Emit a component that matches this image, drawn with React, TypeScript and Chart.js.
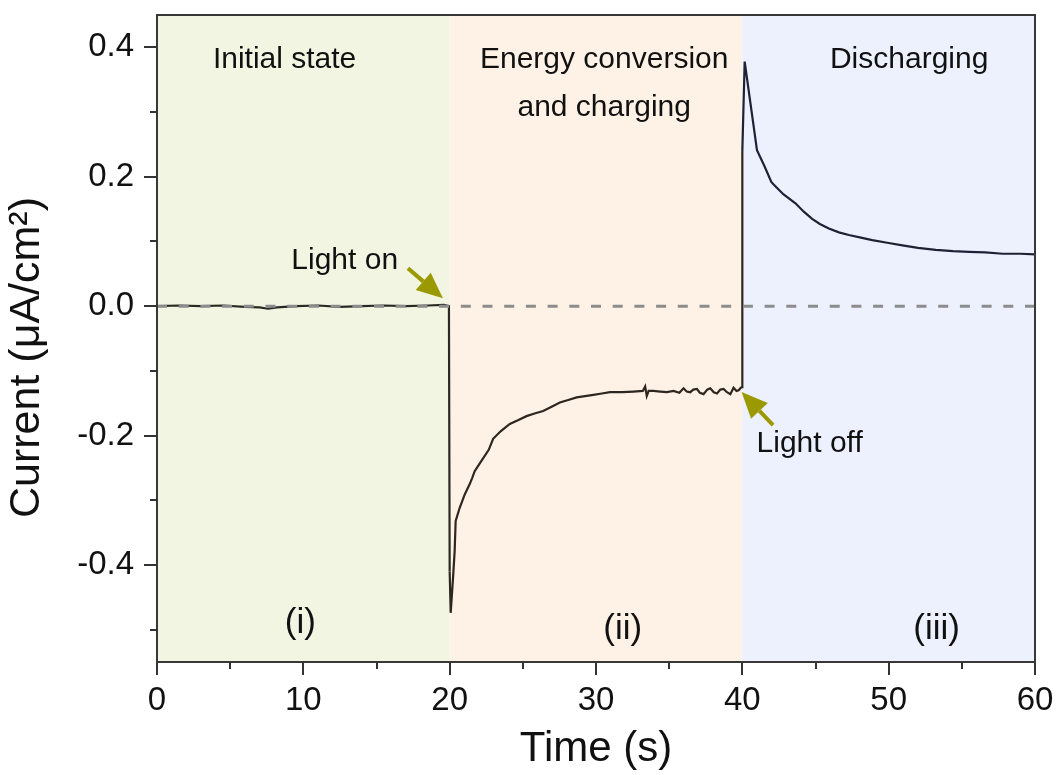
import React, { useEffect, useRef } from 'react';
import { Chart, registerables } from 'chart.js';

Chart.register(...registerables);

// ---------------- data ----------------
const timeS: number[] = [
  0, 1.5, 3, 4.5, 6, 7, 7.6, 8.2, 9.5, 11, 12.5, 14, 15.5, 17, 18.5, 19.6, 19.95,
  20.0, 20.07, 20.23, 20.34, 20.41, 20.68, 21.03, 21.37, 21.55, 21.71, 22.17, 22.67, 22.97,
  23.5, 24.11, 24.7, 25.25, 25.8, 26.39, 27.0, 27.53, 28.1, 28.68, 29.25, 29.82, 30.4, 30.96,
  31.8, 32.56, 33.2, 33.36, 33.47, 33.6, 33.92, 34.4, 34.84, 35.3, 35.7, 35.98, 36.2, 36.44,
  36.65, 36.9, 37.1, 37.35, 37.6, 37.81, 38.05, 38.27, 38.5, 38.72, 38.95, 39.18, 39.4, 39.6,
  39.75, 39.9, 39.98, 40.0, 40.16, 41.0, 41.5, 41.98, 42.14, 42.8, 43.63, 44.2, 44.77, 45.3,
  45.91, 46.6, 47.28, 48.1, 48.88, 49.9, 50.94, 52.0, 53.22, 54.4, 55.5, 56.6, 57.79, 59.0, 60.0,
];
const currentUA: number[] = [
  0.0, 0.001, 0.0, 0.001, -0.001, -0.002, -0.004, -0.002, 0.0, 0.001, -0.001, 0.0, 0.001, 0.0, 0.001, 0.002, 0.0,
  -0.41, -0.474, -0.42, -0.379, -0.332, -0.312, -0.291, -0.275, -0.265, -0.255, -0.239, -0.222, -0.205,
  -0.193, -0.182, -0.176, -0.17, -0.166, -0.162, -0.155, -0.149, -0.145, -0.141, -0.139, -0.137, -0.135, -0.133,
  -0.133, -0.132, -0.131, -0.124, -0.139, -0.131, -0.131, -0.132, -0.133, -0.131, -0.134, -0.127, -0.132, -0.133,
  -0.129, -0.128, -0.134, -0.136, -0.129, -0.127, -0.133, -0.135, -0.129, -0.128, -0.133, -0.136, -0.126, -0.131,
  -0.13, -0.126, -0.125, 0.24, 0.378, 0.241, 0.217, 0.192, 0.188, 0.173, 0.159, 0.146, 0.135, 0.127,
  0.12, 0.114, 0.11, 0.106, 0.102, 0.098, 0.094, 0.09, 0.087, 0.085, 0.084, 0.083, 0.081, 0.081, 0.08,
];
const zeroLineX: number[] = [0, 60];
const zeroLineY: number[] = [0, 0];

const xMajorTicks: number[] = [0, 10, 20, 30, 40, 50, 60];
const xTickLabels: string[] = ['0', '10', '20', '30', '40', '50', '60'];
const xMinorTicks: number[] = [5, 15, 25, 35, 45, 55];
const yMajorTicks: number[] = [-0.4, -0.2, 0, 0.2, 0.4];
const yTickLabels: string[] = ['-0.4', '-0.2', '0.0', '0.2', '0.4'];
const yMinorTicks: number[] = [-0.5, -0.3, -0.1, 0.1, 0.3];

const phaseStart: number[] = [0, 20, 40];
const phaseEnd: number[] = [20, 40, 60];
const phaseTitles: string[][] = [['Initial state'], ['Energy conversion', 'and charging'], ['Discharging']];
const phaseNumerals: string[] = ['(i)', '(ii)', '(iii)'];
const arrowLabels: string[] = ['Light on', 'Light off'];

// ---------------- styling / annotation placement (data coordinates) ----------------
const FONT = '"Liberation Sans", Arial, Helvetica, sans-serif';
const bandColors = ['#f3f5e3', '#fef2e7', '#edf1fe'];
const lineColors = ['#2a2a24', '#2e2620', '#1f2235'];
const titlePos = [
  { x: 8.72, y: [0.3686] },
  { x: 30.56, y: [0.3686, 0.2943] },
  { x: 51.4, y: [0.3686] },
];
const numeralPos = [
  { x: 9.8, y: -0.5045 },
  { x: 31.83, y: -0.514 },
  { x: 53.28, y: -0.514 },
];
const arrowPos = [
  { label: { x: 9.18, y: 0.0567 }, tail: { x: 17.15, y: 0.0585 }, tip: { x: 19.54, y: 0.0121 } },
  { label: { x: 40.97, y: -0.2254 }, tail: { x: 42.1, y: -0.184 }, tip: { x: 39.95, y: -0.1325 } },
];

const decorPlugin = {
  id: 'decor',
  beforeDatasetsDraw(chart: any) {
    const { ctx, chartArea, scales } = chart;
    const { top, bottom } = chartArea;
    ctx.save();
    phaseStart.forEach((s, i) => {
      const x0 = scales.x.getPixelForValue(s);
      const x1 = scales.x.getPixelForValue(phaseEnd[i]);
      ctx.fillStyle = bandColors[i];
      ctx.fillRect(x0, top, x1 - x0, bottom - top);
    });
    ctx.restore();
  },
  afterDatasetsDraw(chart: any) {
    const { ctx, chartArea, scales } = chart;
    const { left, right, top, bottom } = chartArea;
    const xs = scales.x;
    const ys = scales.y;
    ctx.save();
    // frame
    ctx.strokeStyle = '#383838';
    ctx.lineWidth = 2;
    ctx.strokeRect(left, top, right - left, bottom - top);
    // minor ticks
    ctx.strokeStyle = '#333';
    ctx.lineWidth = 2;
    ctx.beginPath();
    yMinorTicks.forEach((v) => {
      const py = Math.round(ys.getPixelForValue(v));
      ctx.moveTo(left - 7, py);
      ctx.lineTo(left, py);
    });
    xMinorTicks.forEach((v) => {
      const px = Math.round(xs.getPixelForValue(v));
      ctx.moveTo(px, bottom);
      ctx.lineTo(px, bottom + 7);
    });
    ctx.stroke();

    // phase titles
    ctx.fillStyle = '#111';
    ctx.textAlign = 'center';
    ctx.textBaseline = 'alphabetic';
    ctx.font = `30px ${FONT}`;
    phaseTitles.forEach((lines, i) => {
      lines.forEach((t, j) => {
        ctx.fillText(t, xs.getPixelForValue(titlePos[i].x), ys.getPixelForValue(titlePos[i].y[j]));
      });
    });
    ctx.font = `35px ${FONT}`;
    phaseNumerals.forEach((t, i) => {
      ctx.fillText(t, xs.getPixelForValue(numeralPos[i].x), ys.getPixelForValue(numeralPos[i].y));
    });

    // arrows + labels
    ctx.font = `30px ${FONT}`;
    ctx.textAlign = 'left';
    arrowPos.forEach((a, i) => {
      ctx.fillStyle = '#111';
      ctx.fillText(arrowLabels[i], xs.getPixelForValue(a.label.x), ys.getPixelForValue(a.label.y));
      const tx = xs.getPixelForValue(a.tail.x);
      const ty = ys.getPixelForValue(a.tail.y);
      const hx = xs.getPixelForValue(a.tip.x);
      const hy = ys.getPixelForValue(a.tip.y);
      const ang = Math.atan2(hy - ty, hx - tx);
      const headLen = 26;
      const halfW = 11.5;
      const bx = hx - headLen * Math.cos(ang);
      const by = hy - headLen * Math.sin(ang);
      ctx.strokeStyle = '#9a9a00';
      ctx.fillStyle = '#9a9a00';
      ctx.lineWidth = 4;
      ctx.beginPath();
      ctx.moveTo(tx, ty);
      ctx.lineTo(bx, by);
      ctx.stroke();
      ctx.beginPath();
      ctx.moveTo(hx, hy);
      ctx.lineTo(bx + halfW * Math.sin(ang), by - halfW * Math.cos(ang));
      ctx.lineTo(bx - halfW * Math.sin(ang), by + halfW * Math.cos(ang));
      ctx.closePath();
      ctx.fill();
    });

    // y axis title
    ctx.save();
    ctx.translate(27, (top + bottom) / 2 + 19);
    ctx.rotate(-Math.PI / 2);
    ctx.fillStyle = '#111';
    ctx.font = `43px ${FONT}`;
    ctx.textAlign = 'center';
    ctx.textBaseline = 'middle';
    ctx.fillText('Current (μA/cm²)', 0, 0);
    ctx.restore();

    ctx.restore();
  },
};

export default function App() {
  const canvasRef = useRef<HTMLCanvasElement | null>(null);

  useEffect(() => {
    if (!canvasRef.current) return;
    const chart = new Chart(canvasRef.current, {
      type: 'line',
      data: {
        datasets: [
          {
            label: 'zero',
            data: zeroLineX.map((x, i) => ({ x, y: zeroLineY[i] })),
            borderColor: '#8c8c8c',
            borderWidth: 3,
            borderDash: [10, 11.7],
            pointRadius: 0,
            order: 0,
          },
          {
            label: 'Current',
            data: timeS.map((x, i) => ({ x, y: currentUA[i] })),
            borderColor: '#262626',
            borderWidth: 2.2,
            pointRadius: 0,
            tension: 0,
            order: 1,
            segment: {
              borderColor: (c: any) => {
                const x = c.p0.parsed.x;
                return x < 19.99 ? lineColors[0] : x < 39.99 ? lineColors[1] : lineColors[2];
              },
            },
          },
        ],
      } as any,
      options: {
        responsive: false,
        devicePixelRatio: 1,
        animation: false,
        layout: { padding: { top: 15, right: 22, left: 0, bottom: 0 } },
        plugins: {
          legend: { display: false },
          tooltip: { enabled: false },
        },
        scales: {
          x: {
            type: 'linear',
            min: 0,
            max: 60,
            afterBuildTicks: (s: any) => {
              s.ticks = xMajorTicks.map((v) => ({ value: v }));
            },
            afterFit: (s: any) => {
              s.height = 113;
              s.paddingLeft = 0;
              s.paddingRight = 0;
            },
            ticks: {
              callback: (_v: any, i: number) => xTickLabels[i],
              font: { size: 33, family: FONT },
              color: '#111',
              padding: 6,
              maxRotation: 0,
              autoSkip: false,
            },
            grid: { drawOnChartArea: false, tickLength: 13, lineWidth: 2, color: '#333' },
            border: { display: false },
            title: {
              display: true,
              text: 'Time (s)',
              font: { size: 42, family: FONT },
              color: '#111',
              padding: { top: 0, bottom: 0 },
            },
          },
          y: {
            type: 'linear',
            min: -0.55,
            max: 0.45,
            afterBuildTicks: (s: any) => {
              s.ticks = yMajorTicks.map((v) => ({ value: v }));
            },
            afterFit: (s: any) => {
              s.width = 157;
              s.paddingTop = 0;
              s.paddingBottom = 0;
            },
            ticks: {
              callback: (_v: any, i: number) => yTickLabels[i],
              font: { size: 33, family: FONT },
              color: '#111',
              padding: 10,
              autoSkip: false,
            },
            grid: { drawOnChartArea: false, tickLength: 13, lineWidth: 2, color: '#333' },
            border: { display: false },
          },
        },
      } as any,
      plugins: [decorPlugin],
    });
    return () => chart.destroy();
  }, []);

  return (
    <div style={{ position: 'absolute', left: 0, top: 0, width: 1057, height: 775, background: '#fff' }}>
      <canvas ref={canvasRef} width={1057} height={775} style={{ display: 'block' }} />
    </div>
  );
}
